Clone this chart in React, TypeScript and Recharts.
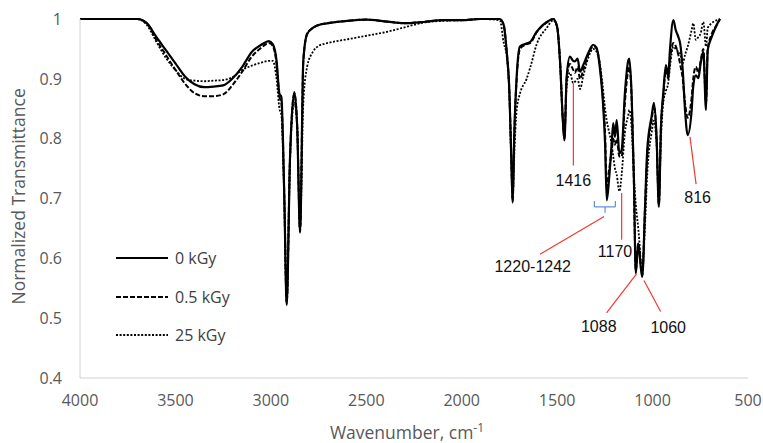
import React from 'react';
import { LineChart, Line, XAxis, YAxis, Legend, ReferenceLine, ReferenceDot } from 'recharts';

// wavenumber grid (cm-1)
const wavenumber = [
    4000, 3700, 3650, 3600, 3550, 3500, 3450, 3400, 3350, 3300,
    3250, 3200, 3150, 3100, 3050, 3010, 2990, 2970, 2955, 2945,
    2930, 2917, 2900, 2877, 2862, 2847, 2830, 2810, 2780, 2750,
    2700, 2600, 2500, 2400, 2300, 2200, 2100, 2000, 1900, 1800,
    1780, 1765, 1750, 1740, 1733, 1725, 1712, 1695, 1660, 1640,
    1607, 1555, 1520, 1500, 1485, 1470, 1462, 1450, 1433, 1416,
    1407, 1393, 1380, 1363, 1337, 1311, 1293, 1279, 1262, 1249,
    1240, 1227, 1214, 1206, 1197, 1188, 1174, 1162, 1145, 1127,
    1122, 1110, 1098, 1088, 1075, 1066, 1060, 1054, 1040, 1028,
    1005, 993, 979, 967, 956, 944, 930, 918, 909, 891,
    879, 865, 856, 842, 830, 816, 795, 787, 773, 760,
    748, 734, 720, 711, 690, 664, 647,
];

const t0kGy = [
    1, 1, 0.993, 0.97, 0.948, 0.926, 0.904, 0.891, 0.886, 0.887,
    0.889, 0.901, 0.92, 0.945, 0.957, 0.963, 0.958, 0.93, 0.875, 0.87,
    0.71, 0.522, 0.764, 0.878, 0.82, 0.643, 0.93, 0.975, 0.985, 0.99,
    0.993, 0.997, 0.999, 0.996, 0.993, 0.995, 0.998, 0.998, 1, 1,
    0.99, 0.948, 0.876, 0.764, 0.693, 0.803, 0.904, 0.954, 0.959, 0.962,
    0.979, 0.995, 1, 0.987, 0.93, 0.83, 0.797, 0.904, 0.937, 0.93,
    0.929, 0.934, 0.912, 0.923, 0.943, 0.957, 0.952, 0.926, 0.87, 0.793,
    0.697, 0.736, 0.793, 0.826, 0.803, 0.831, 0.776, 0.781, 0.876, 0.931,
    0.934, 0.876, 0.736, 0.575, 0.625, 0.6, 0.58, 0.569, 0.681, 0.781,
    0.837, 0.86, 0.803, 0.686, 0.82, 0.876, 0.923, 0.904, 0.948, 0.998,
    0.982, 0.97, 0.96, 0.915, 0.848, 0.806, 0.848, 0.887, 0.906, 0.901,
    0.926, 0.945, 0.848, 0.948, 0.97, 0.99, 1,
];

const t05kGy = [
    1, 1, 0.993, 0.965, 0.94, 0.915, 0.892, 0.876, 0.871, 0.871,
    0.874, 0.89, 0.912, 0.937, 0.952, 0.96, 0.955, 0.925, 0.87, 0.86,
    0.71, 0.525, 0.764, 0.875, 0.82, 0.645, 0.93, 0.975, 0.985, 0.99,
    0.993, 0.997, 0.999, 0.996, 0.993, 0.995, 0.998, 0.998, 1, 1,
    0.99, 0.948, 0.876, 0.764, 0.695, 0.803, 0.9, 0.95, 0.958, 0.96,
    0.978, 0.994, 1, 0.987, 0.93, 0.83, 0.8, 0.9, 0.925, 0.915,
    0.91, 0.92, 0.9, 0.915, 0.94, 0.955, 0.95, 0.93, 0.875, 0.81,
    0.72, 0.75, 0.78, 0.8, 0.79, 0.8, 0.77, 0.77, 0.86, 0.915,
    0.92, 0.87, 0.73, 0.58, 0.625, 0.605, 0.585, 0.572, 0.68, 0.77,
    0.83, 0.855, 0.8, 0.69, 0.82, 0.87, 0.915, 0.9, 0.93, 0.96,
    0.955, 0.94, 0.925, 0.9, 0.86, 0.835, 0.87, 0.9, 0.92, 0.91,
    0.93, 0.95, 0.86, 0.95, 0.975, 0.99, 1,
];

const t25kGy = [
    1, 1, 0.99, 0.962, 0.935, 0.915, 0.9, 0.897, 0.896, 0.897,
    0.898, 0.903, 0.915, 0.922, 0.927, 0.93, 0.93, 0.9, 0.85, 0.84,
    0.7, 0.53, 0.76, 0.86, 0.82, 0.65, 0.86, 0.92, 0.945, 0.955,
    0.96, 0.966, 0.972, 0.978, 0.986, 0.994, 0.997, 0.998, 1, 0.998,
    0.96, 0.94, 0.87, 0.76, 0.7, 0.77, 0.848, 0.875, 0.9, 0.92,
    0.958, 0.985, 0.998, 0.985, 0.93, 0.83, 0.8, 0.89, 0.91, 0.893,
    0.895, 0.9, 0.883, 0.905, 0.935, 0.95, 0.945, 0.93, 0.89, 0.85,
    0.83, 0.81, 0.79, 0.77, 0.75, 0.74, 0.712, 0.74, 0.81, 0.84,
    0.848, 0.82, 0.74, 0.69, 0.65, 0.614, 0.58, 0.58, 0.653, 0.74,
    0.81, 0.83, 0.79, 0.7, 0.8, 0.86, 0.88, 0.893, 0.92, 0.954,
    0.95, 0.945, 0.943, 0.926, 0.94, 0.954, 0.982, 0.993, 0.965, 0.97,
    0.976, 0.995, 0.954, 0.985, 0.993, 0.998, 1,
];

const xTicks = [4000, 3500, 3000, 2500, 2000, 1500, 1000, 500];
const yTicks = [0.4, 0.5, 0.6, 0.7, 0.8, 0.9, 1];

// peak annotations: label text and where it sits (wavenumber, transmittance)
const peakLabels = [
    { text: '1416', wn: 1415, t: 0.731 },
    { text: '816', wn: 764, t: 0.702 },
    { text: '1220-1242', wn: 1628, t: 0.586 },
    { text: '1170', wn: 1197, t: 0.611 },
    { text: '1088', wn: 1282, t: 0.487 },
    { text: '1060', wn: 918, t: 0.484 },
];

// leader lines from the peaks to the labels
const leaders = [
    [[1415, 0.8925], [1415, 0.755]],
    [[804, 0.803], [772, 0.724]],
    [[1254, 0.67], [1590, 0.607]],
    [[1162, 0.709], [1162, 0.631]],
    [[1084, 0.574], [1241, 0.509]],
    [[1045, 0.563], [958, 0.511]],
];

// the blue brace over 1220-1242
const brace = [
    [[1305, 0.696], [1305, 0.686]],
    [[1305, 0.686], [1195, 0.686]],
    [[1195, 0.686], [1195, 0.696]],
    [[1249, 0.686], [1249, 0.676]],
];

const series = [
    { key: 'd25', name: '25 kGy', dash: '2 1.6', width: 1.8 },
    { key: 'd05', name: '0.5 kGy', dash: '5 2', width: 2 },
    { key: 'd0', name: '0 kGy', dash: undefined, width: 2.2 },
];

const data = wavenumber.map((wn, i) => ({ wn, d0: t0kGy[i], d05: t05kGy[i], d25: t25kGy[i] }));

const FONT = '"Open Sans", sans-serif';
const AXIS_GREY = '#595959';
const RED = '#EF3A30';

const renderLegend = () => (
    <div style={{ fontFamily: FONT, fontSize: 16, color: '#404040' }}>
        {[...series].reverse().map(s => (
            <div key={s.key} style={{ display: 'flex', alignItems: 'center', height: 38.5 }}>
                <svg width={52} height={10} style={{ marginRight: 7 }}>
                    <line x1={0} y1={5} x2={52} y2={5} stroke="#000" strokeWidth={s.width} strokeDasharray={s.dash} />
                </svg>
                <span>{s.name}</span>
            </div>
        ))}
    </div>
);

const XLabel = ({ viewBox }: any) => {
    const cx = viewBox.x + viewBox.width / 2;
    return (
        <text x={cx - 7} y={439} textAnchor="middle" fill={AXIS_GREY} fontFamily={FONT} fontSize={17.5}>
            Wavenumber, cm<tspan dy={-7} fontSize={12}>-1</tspan>
        </text>
    );
};

export default function App() {
    return (
        <div style={{ position: 'fixed', left: 0, top: 0, background: '#fff' }}>
            <LineChart width={763} height={443} data={data} margin={{ top: 19, right: 15, bottom: 0, left: 20 }}>
                <XAxis
                    dataKey="wn"
                    type="number"
                    domain={[500, 4000]}
                    ticks={xTicks}
                    reversed
                    height={65}
                    tickLine={false}
                    tickMargin={11}
                    axisLine={{ stroke: '#D0D0D0' }}
                    tick={{ fill: AXIS_GREY, fontFamily: FONT, fontSize: 16 }}
                    label={<XLabel />}
                />
                <YAxis
                    type="number"
                    domain={[0.4, 1]}
                    ticks={yTicks}
                    width={60}
                    tickLine={false}
                    tickMargin={12}
                    axisLine={{ stroke: '#D0D0D0' }}
                    tick={{ fill: AXIS_GREY, fontFamily: FONT, fontSize: 16 }}
                    tickFormatter={(v: number) => String(Math.round(v * 10) / 10)}
                    label={{
                        value: 'Normalized Transmittance',
                        angle: -90,
                        position: 'insideLeft',
                        dx: -6,
                        dy: 106,
                        fill: AXIS_GREY,
                        fontFamily: FONT,
                        fontSize: 17.5,
                    }}
                />
                <Legend
                    content={renderLegend}
                    layout="vertical"
                    verticalAlign="middle"
                    align="center"
                    wrapperStyle={{ left: 116, top: 239, width: 'auto' }}
                />
                {series.map(s => (
                    <Line
                        key={s.key}
                        dataKey={s.key}
                        name={s.name}
                        type="monotone"
                        stroke="#000"
                        strokeWidth={s.width}
                        strokeDasharray={s.dash}
                        dot={false}
                        isAnimationActive={false}
                    />
                ))}
                {leaders.map((seg, i) => (
                    <ReferenceLine
                        key={'l' + i}
                        segment={[{ x: seg[0][0], y: seg[0][1] }, { x: seg[1][0], y: seg[1][1] }]}
                        stroke={RED}
                        strokeWidth={1.2}
                    />
                ))}
                {brace.map((seg, i) => (
                    <ReferenceLine
                        key={'b' + i}
                        segment={[{ x: seg[0][0], y: seg[0][1] }, { x: seg[1][0], y: seg[1][1] }]}
                        stroke="#5B8FD6"
                        strokeWidth={1.2}
                    />
                ))}
                {peakLabels.map(p => (
                    <ReferenceDot
                        key={p.text}
                        x={p.wn}
                        y={p.t}
                        r={0}
                        fill="none"
                        stroke="none"
                        label={{ value: p.text, position: 'center', fill: '#111', fontFamily: '"Liberation Sans", Arial, sans-serif', fontSize: 16 }}
                    />
                ))}
            </LineChart>
        </div>
    );
}
